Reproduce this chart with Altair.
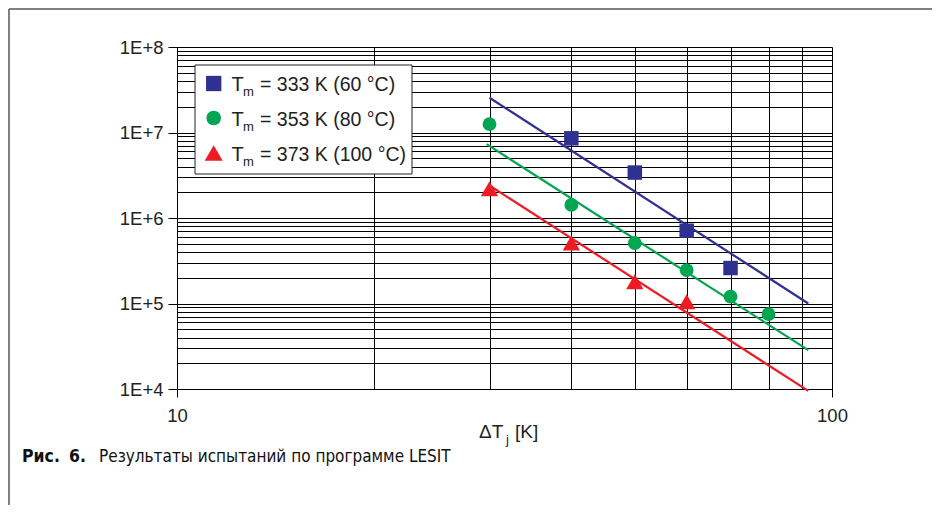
import altair as alt
import pandas as pd

# ---------------- data ----------------
series_names = ["333", "353", "373"]
series_colors = ["#2E3192", "#00A651", "#ED1C24"]
series_shapes = ["square", "circle", "triangle-up"]
series_sizes = [210, 190, 300]
legend_texts = ["= 333 K (60 °C)", "= 353 K (80 °C)", "= 373 K (100 °C)"]

blue_x = [40, 50, 60, 70]
blue_y = [8.55e6, 3.4e6, 7.1e5, 2.6e5]
green_x = [30, 40, 50, 60, 70, 80]
green_y = [1.25e7, 1.42e6, 5.1e5, 2.45e5, 1.2e5, 7.5e4]
red_x = [30, 40, 50, 60]
red_y = [2.2e6, 5.1e5, 1.8e5, 1.05e5]

# fitted lines (end points)
blue_fit_x = [30, 92]
blue_fit_y = [2.55e7, 1.0e5]
green_fit_x = [29.7, 92]
green_fit_y = [7.3e6, 2.85e4]
red_fit_x = [30, 92]
red_fit_y = [2.4e6, 9.5e3]

x_grid = [10, 20, 30, 40, 50, 60, 70, 80, 90, 100]
x_major = [10, 100]
x_major_labels = ["10", "100"]
y_grid = [m * 10 ** k for k in range(4, 8) for m in range(1, 10)] + [10 ** 8]
y_major = [10 ** 4, 10 ** 5, 10 ** 6, 10 ** 7, 10 ** 8]
y_major_labels = ["1E+4", "1E+5", "1E+6", "1E+7", "1E+8"]

caption_bold_1 = "Рис."
caption_bold_2 = "6."
caption_text = "Результаты испытаний по программе LESIT"

# ---------------- helpers ----------------
FONT = "Liberation Sans, Arial, Helvetica, sans-serif"
CAP_FONT = "Liberation Sans Narrow, Arial Narrow, DejaVu Sans Condensed, sans-serif"


def label_expr(vals, labels):
    expr = "''"
    for v, l in reversed(list(zip(vals, labels))):
        expr = f"datum.value == {v} ? '{l}' : ({expr})"
    return expr


def major_test(vals):
    return " || ".join(f"datum.value == {v}" for v in vals)


x_axis = alt.Axis(
    values=x_grid, grid=True, gridColor="black", gridWidth=1, gridOpacity=1,
    domainColor="black", domainWidth=1, tickColor="black", tickSize=8,
    tickOpacity={"condition": {"test": major_test(x_major), "value": 1}, "value": 0},
    labelExpr=label_expr(x_major, x_major_labels), labelFont=FONT,
    labelFontSize=18.5, labelColor="#222", labelPadding=9, labelFlush=False,
    labelOverlap=False, title=None,
)
y_axis = alt.Axis(
    values=y_grid, grid=True, gridColor="black", gridWidth=1, gridOpacity=1,
    domainColor="black", domainWidth=1, tickColor="black", tickSize=9,
    tickOpacity={"condition": {"test": major_test(y_major), "value": 1}, "value": 0},
    labelExpr=label_expr(y_major, y_major_labels), labelFont=FONT,
    labelFontSize=18.5, labelColor="#222", labelPadding=5, labelFlush=False,
    labelOverlap=False, title=None,
)

X = alt.X("x:Q", scale=alt.Scale(type="log", domain=[10, 100], nice=False), axis=x_axis)
Y = alt.Y("y:Q", scale=alt.Scale(type="log", domain=[1e4, 1e8], nice=False), axis=y_axis)

one = alt.Data(values=[{"k": 1}])

layers = []
pts = [(blue_x, blue_y), (green_x, green_y), (red_x, red_y)]
fits = [(blue_fit_x, blue_fit_y), (green_fit_x, green_fit_y), (red_fit_x, red_fit_y)]

for i in range(3):
    fx, fy = fits[i]
    layers.append(
        alt.Chart(pd.DataFrame({"x": fx, "y": fy}))
        .mark_line(color=series_colors[i], strokeWidth=2.2, clip=False)
        .encode(x=X, y=Y)
    )
for i in range(3):
    px, py = pts[i]
    layers.append(
        alt.Chart(pd.DataFrame({"x": px, "y": py}))
        .mark_point(shape=series_shapes[i], size=series_sizes[i], filled=True,
                    opacity=1, color=series_colors[i])
        .encode(x=X, y=Y)
    )

# legend box
layers.append(
    alt.Chart(one).mark_rect(fill="white", stroke="#222", strokeWidth=1)
    .encode(x=alt.value(18), x2=alt.value(235), y=alt.value(18), y2=alt.value(127))
)
row_y = [36.5, 71, 106]
for i in range(3):
    ry = row_y[i]
    layers.append(
        alt.Chart(one).mark_point(shape=series_shapes[i], size=series_sizes[i] + 25,
                                  filled=True, opacity=1, color=series_colors[i])
        .encode(x=alt.value(36.7), y=alt.value(ry))
    )
    layers.append(
        alt.Chart(one).mark_text(text="T", align="left", baseline="alphabetic",
                                 font=FONT, fontSize=20, color="#222")
        .encode(x=alt.value(54.5), y=alt.value(ry + 7.5))
    )
    layers.append(
        alt.Chart(one).mark_text(text="m", align="left", baseline="alphabetic",
                                 font=FONT, fontSize=13, color="#222")
        .encode(x=alt.value(66), y=alt.value(ry + 12.5))
    )
    layers.append(
        alt.Chart(one).mark_text(text=legend_texts[i], align="left", baseline="alphabetic",
                                 font=FONT, fontSize=19.5, color="#222")
        .encode(x=alt.value(83), y=alt.value(ry + 7.5))
    )

# x-axis title  ΔT_j [K]
layers.append(
    alt.Chart(one).mark_text(text="ΔT", align="left", baseline="alphabetic",
                             font=FONT, fontSize=19, color="#222")
    .encode(x=alt.value(302), y=alt.value(391))
)
layers.append(
    alt.Chart(one).mark_text(text="j", align="left", baseline="alphabetic",
                             font=FONT, fontSize=13, color="#222")
    .encode(x=alt.value(329), y=alt.value(396.5))
)
layers.append(
    alt.Chart(one).mark_text(text="[K]", align="left", baseline="alphabetic",
                             font=FONT, fontSize=19, color="#222")
    .encode(x=alt.value(338), y=alt.value(391))
)

# caption
layers.append(
    alt.Chart(one).mark_text(text=caption_bold_1, align="left", baseline="alphabetic",
                             font=CAP_FONT, fontSize=17.5, fontWeight="bold", color="#111")
    .encode(x=alt.value(-155), y=alt.value(415))
)
layers.append(
    alt.Chart(one).mark_text(text=caption_bold_2, align="left", baseline="alphabetic",
                             font=CAP_FONT, fontSize=17.5, fontWeight="bold", color="#111")
    .encode(x=alt.value(-108), y=alt.value(415))
)
layers.append(
    alt.Chart(one).mark_text(text=caption_text, align="left", baseline="alphabetic",
                             font=CAP_FONT, fontSize=17, color="#111")
    .encode(x=alt.value(-78), y=alt.value(415))
)

# outer frame (left and top)
layers.append(
    alt.Chart(one).mark_rule(color="#555", strokeWidth=1.5)
    .encode(x=alt.value(-168), y=alt.value(-38), y2=alt.value(458))
)
layers.append(
    alt.Chart(one).mark_rule(color="#555", strokeWidth=1.5)
    .encode(x=alt.value(-168), x2=alt.value(757), y=alt.value(-38))
)

chart = (
    alt.layer(*layers)
    .properties(
        width=655, height=342,
        autosize=alt.AutoSizeParams(type="none"),
        padding={"left": 169, "top": 39, "right": 100, "bottom": 116},
        background="white",
    )
    .configure_view(stroke=None)
)

chart.save("out.html", embed_options={"renderer": "svg", "actions": False})
